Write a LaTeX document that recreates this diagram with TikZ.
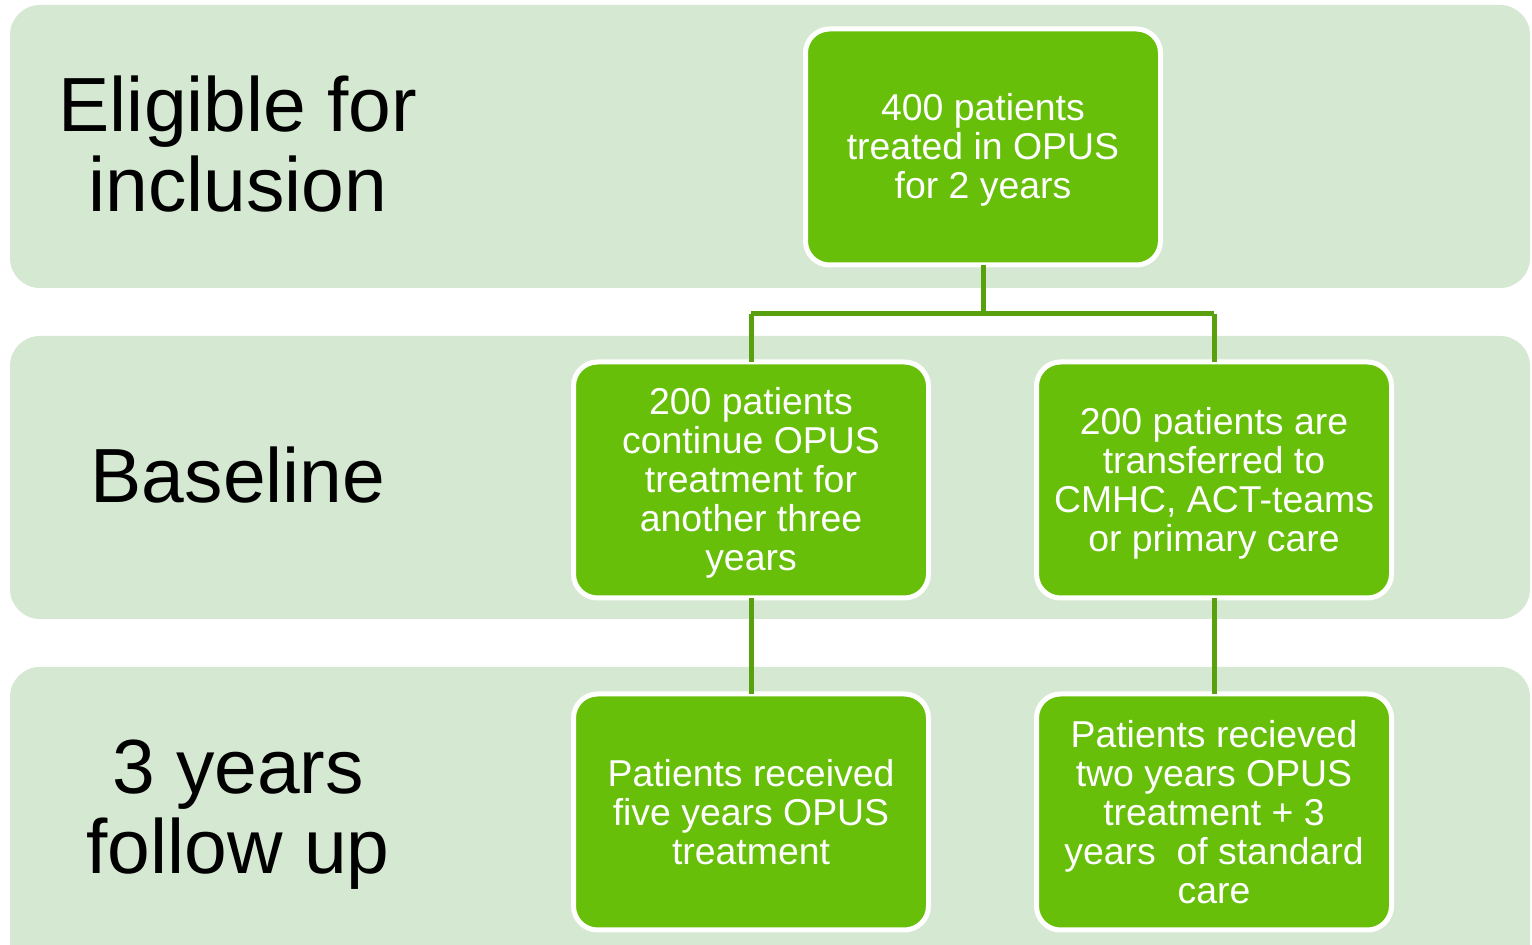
\documentclass[tikz,border=0pt]{standalone}
\usepackage{fontspec}
\setmainfont{Liberation Sans}
\definecolor{bandfill}{HTML}{D5E8D1}
\definecolor{boxfill}{HTML}{67BF0A}
\definecolor{linkcol}{HTML}{58A00E}
\begin{document}
\begin{tikzpicture}[x=0.5pt,y=-0.5pt,
  band/.style={fill=bandfill,draw=none,rounded corners=15pt},
  greenbox/.style={draw=white,line width=2.5pt,fill=boxfill,rounded corners=12pt,
    minimum width=177.5pt,minimum height=118pt,inner sep=0pt},
  boxtext/.style={text=white,align=center,
    font=\fontsize{18.7}{19.5}\selectfont,inner sep=0pt},
  rowlabel/.style={text=black,align=center,font=\fontsize{38.4}{40}\selectfont},
  link/.style={draw=linkcol,line width=2.5pt}]
\useasboundingbox (0,0) rectangle (1532,945);
\fill[white] (0,0) rectangle (1532,945);
% bands
\path[band] (10,5) rectangle (1530,288);
\path[band] (10,336) rectangle (1530,619);
\path[band] (10,667) rectangle (1530,975);
% row labels
\node[rowlabel] (l1) at (238,144) {Eligible for\\inclusion};
\node[rowlabel] (l2) at (238,475) {Baseline};
\node[rowlabel] (l3) at (238,815) {3 years\\follow up};
% junction points
\coordinate (j) at (983,314);
\coordinate (jl) at (751,314);
\coordinate (jr) at (1214,314);
% boxes
\node[greenbox] (top) at (983,147) {};
\node[greenbox] (ml) at (751,480) {};
\node[greenbox] (mr) at (1214,480) {};
\node[greenbox] (bl) at (751,812) {};
\node[greenbox] (br) at (1214,812) {};
% box texts
\node[boxtext] (ttop) at ([yshift=-1.5pt]top.center) {400 patients\\treated in OPUS\\for 2 years};
\node[boxtext] (tml) at ([yshift=-1.5pt]ml.center) {200 patients\\continue OPUS\\treatment for\\another three\\years};
\node[boxtext] (tmr) at ([yshift=-1.5pt]mr.center) {200 patients are\\transferred to\\CMHC, ACT-teams\\or primary care};
\node[boxtext] (tbl) at ([yshift=0pt]bl.center) {Patients received\\five years OPUS\\treatment};
\node[boxtext] (tbr) at ([yshift=0pt]br.center) {Patients recieved\\two years OPUS\\treatment + 3\\years\ \ of standard\\care};
% connectors
\draw[link] ([yshift=1.25pt]top.south) -- (j);
\draw[link] (jl) -- (jr);
\draw[link] (jl) -- ([yshift=-1.25pt]ml.north);
\draw[link] (jr) -- ([yshift=-1.25pt]mr.north);
\draw[link] ([yshift=1.25pt]ml.south) -- ([yshift=-1.25pt]bl.north);
\draw[link] ([yshift=1.25pt]mr.south) -- ([yshift=-1.25pt]br.north);
\end{tikzpicture}
\end{document}
